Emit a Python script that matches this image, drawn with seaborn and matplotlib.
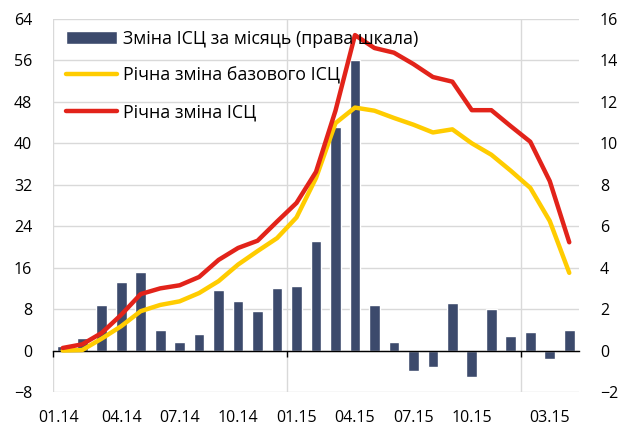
import numpy as np
import pandas as pd
import matplotlib
matplotlib.use("Agg")
import matplotlib.pyplot as plt
import seaborn as sns

sns.set_style("white")
plt.rcParams["font.family"] = ["Open Sans", "DejaVu Sans"]

# ---------------- data ----------------
months = ["01.14", "02.14", "03.14", "04.14", "05.14", "06.14", "07.14", "08.14", "09.14",
          "10.14", "11.14", "12.14", "01.15", "02.15", "03.15", "04.15", "05.15", "06.15",
          "07.15", "08.15", "09.15", "10.15", "11.15", "12.15", "01.16", "02.16", "03.16"]
cpi_mom = [0.2, 0.6, 2.2, 3.3, 3.8, 1.0, 0.4, 0.8, 2.9, 2.4, 1.9, 3.0, 3.1, 5.3, 10.8,
           14.0, 2.2, 0.4, -1.0, -0.8, 2.3, -1.3, 2.0, 0.7, 0.9, -0.4, 1.0]
core_yoy = [0.0, 0.1, 2.3, 4.7, 7.6, 8.8, 9.5, 11.1, 13.4, 16.6, 19.2, 21.7, 25.7, 33.3,
            43.9, 46.9, 46.3, 44.9, 43.6, 42.1, 42.7, 40.0, 37.8, 34.7, 31.4, 25.0, 15.0]
cpi_yoy = [0.5, 1.2, 3.4, 6.9, 10.9, 12.0, 12.6, 14.2, 17.5, 19.8, 21.2, 24.9, 28.5, 34.5,
           46.3, 60.9, 58.4, 57.5, 55.3, 52.8, 51.9, 46.4, 46.4, 43.3, 40.3, 32.7, 20.9]
tick_labels = ["01.14", "04.14", "07.14", "10.14", "01.15", "04.15", "07.15", "10.15", "03.15"]
tick_months = ["01.14", "04.14", "07.14", "10.14", "01.15", "04.15", "07.15", "10.15", "02.16"]
year_starts = ["01.15", "01.16"]

lbl_bar = "Зміна ІСЦ за місяць (права шкала)"
lbl_core = "Річна зміна базового ІСЦ"
lbl_cpi = "Річна зміна ІСЦ"

df = pd.DataFrame({"pos": np.arange(len(months)), "month": months,
                   "mom": cpi_mom, "core": core_yoy, "cpi": cpi_yoy})

BAR = "#3C4A6C"
YEL = "#FFCC00"
RED = "#E2231A"
GRID = "#D9D9D9"

fig = plt.figure(figsize=(6.22, 4.26), dpi=100)
ax = fig.add_axes([53 / 622, 34 / 426, 526 / 622, 373 / 426])
ax2 = ax.twinx()

# bars (right scale) on the lower axes
sns.barplot(data=df, x="pos", y="mom", ax=ax, color=BAR, width=0.55, saturation=1,
            native_scale=True, label=lbl_bar, zorder=2)
# lines (left scale) on the upper axes
sns.lineplot(data=df, x="pos", y="core", ax=ax2, color=YEL, lw=3.2, sort=False,
             label=lbl_core, zorder=3)
sns.lineplot(data=df, x="pos", y="cpi", ax=ax2, color=RED, lw=3.2, sort=False,
             label=lbl_cpi, zorder=4)

ax.set_xlim(-0.5, len(months) - 0.5)
ax.set_ylim(-2, 16)
ax2.set_ylim(-8, 64)

# swap sides: lines' scale on the left, bars' scale on the right
ax.yaxis.tick_right()
ax2.yaxis.tick_left()
ax.set_yticks(np.arange(-2, 17, 2))
ax2.set_yticks(np.arange(-8, 65, 8))
ax.set_ylabel("")
ax2.set_ylabel("")
ax.set_xlabel("")
ax2.set_xlabel("")

for a in (ax, ax2):
    for s in a.spines.values():
        s.set_visible(False)

ax.tick_params(axis="y", length=0, pad=15, labelsize=11.5, labelcolor="#000000")
ax2.tick_params(axis="y", length=0, pad=15, labelsize=11.5, labelcolor="#000000")

# x ticks
pos_of = {m: i for i, m in enumerate(months)}
ax.set_xticks([pos_of[m] - (0.2 if m == "01.14" else 0) for m in tick_months], tick_labels)
ax.tick_params(axis="x", which="major", length=0, pad=13, labelsize=11.5, labelcolor="#000000")
bounds = [-0.5] + [pos_of[m] - 0.5 for m in year_starts]
ax.set_xticks(bounds, minor=True)
ax.tick_params(axis="x", which="minor", length=0)

# grid
ax.set_axisbelow(True)
ax.grid(axis="y", color=GRID, lw=1)
ax.grid(axis="x", which="minor", color=GRID, lw=1)
ax.grid(axis="x", which="major", visible=False)

# zero axis line with year ticks
sec = ax2.secondary_xaxis(8 / 72)
sec.set_xticks(bounds)
sec.set_xticklabels([])
sec.tick_params(axis="x", direction="out", length=4, width=1, color="black")
sec.spines["bottom"].set_color("black")
sec.spines["bottom"].set_linewidth(1)

# legend
h1, l1 = ax.get_legend_handles_labels()
h2, l2 = ax2.get_legend_handles_labels()
for a in (ax, ax2):
    if a.get_legend() is not None:
        a.get_legend().remove()
leg = fig.legend(h1 + h2, l1 + l2, loc="upper left",
                 bbox_to_anchor=(57 / 622, 1 - 21 / 426), frameon=False,
                 borderpad=0, handlelength=2.9, handletextpad=0.3,
                 labelspacing=1.05, fontsize=12.8)
for t in leg.get_texts():
    t.set_color("#000000")

fig.savefig("out.png", dpi=100)
